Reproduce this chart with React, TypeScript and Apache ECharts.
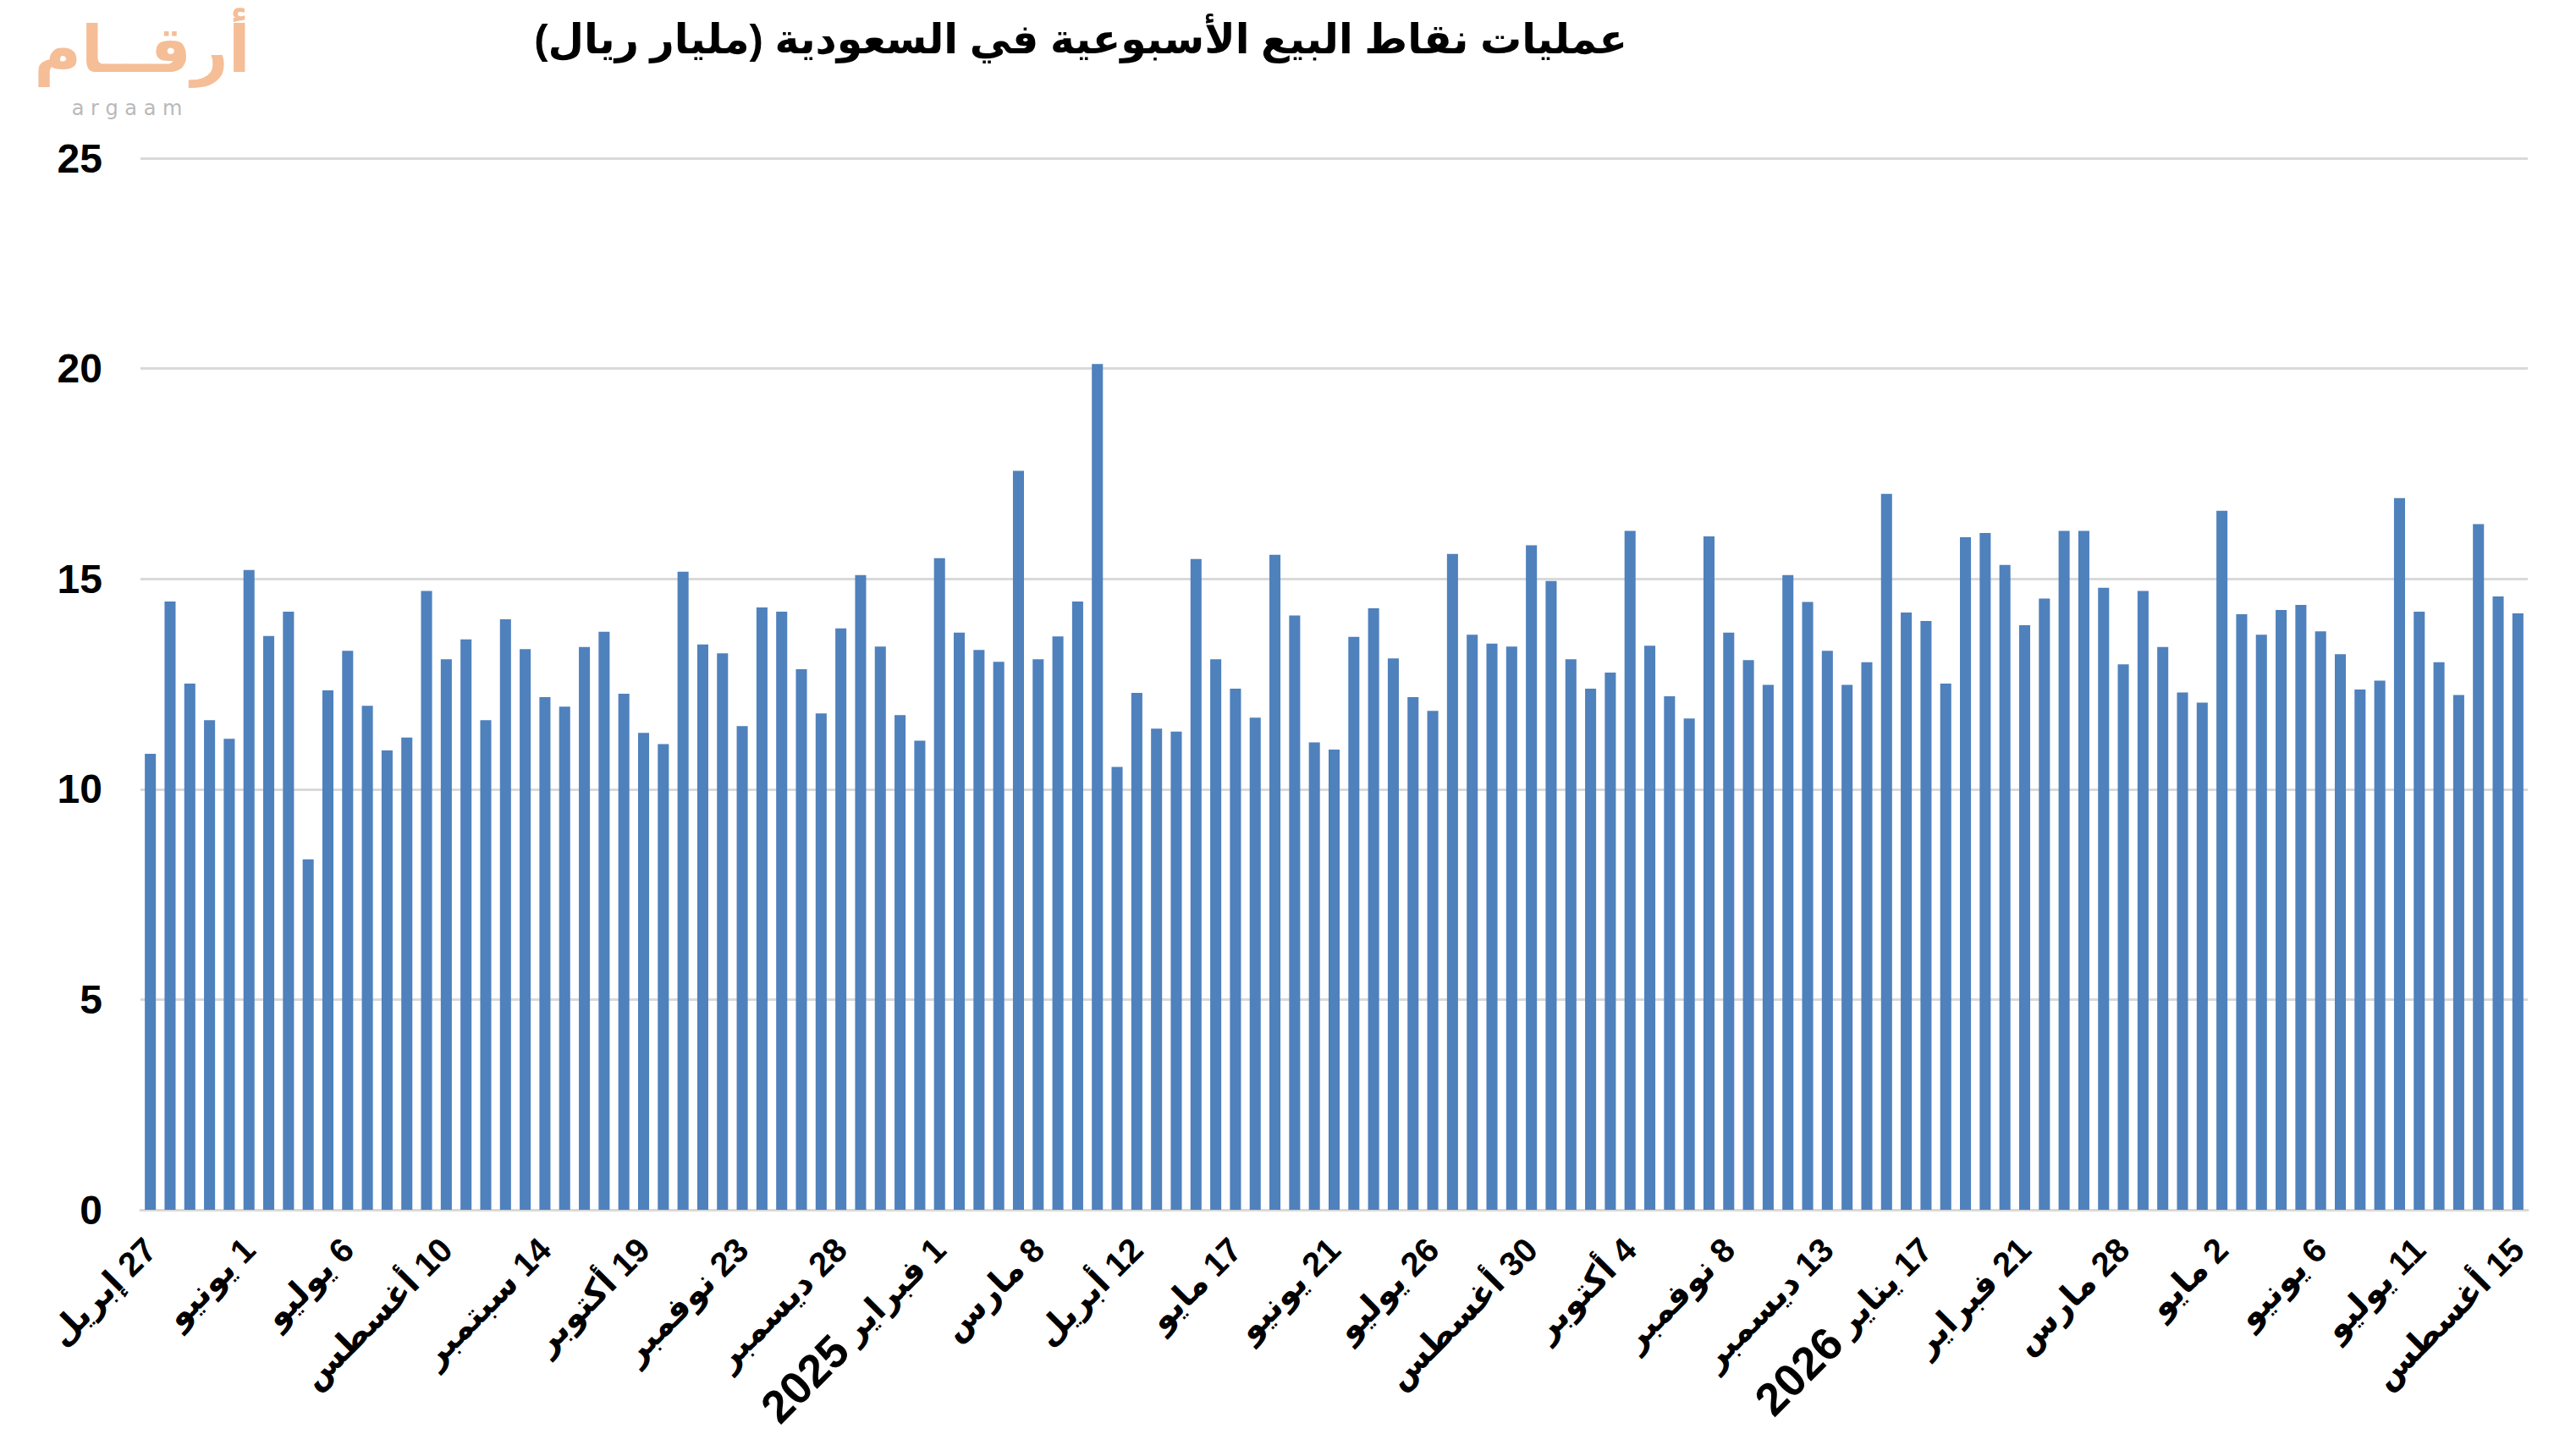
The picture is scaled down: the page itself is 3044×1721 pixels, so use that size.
import React, { useEffect, useRef } from "react";
import * as echarts from "echarts";

const TITLE = "عمليات نقاط البيع الأسبوعية في السعودية (مليار ريال)";

const values: number[] = [
  10.84, 14.46, 12.51, 11.64, 11.2, 15.21, 13.64, 14.22, 8.33, 12.35,
  13.29, 11.98, 10.92, 11.23, 14.71, 13.09, 13.56, 11.64, 14.04, 13.33,
  12.19, 11.96, 13.38, 13.74, 12.27, 11.34, 11.07, 15.17, 13.44, 13.23,
  11.5, 14.32, 14.22, 12.85, 11.8, 13.82, 15.09, 13.39, 11.76, 11.15,
  15.49, 13.72, 13.31, 13.03, 17.57, 13.09, 13.63, 14.46, 20.11, 10.53,
  12.29, 11.44, 11.37, 15.47, 13.09, 12.39, 11.7, 15.57, 14.13, 11.11,
  10.94, 13.62, 14.3, 13.11, 12.19, 11.86, 15.59, 13.67, 13.46, 13.39,
  15.8, 14.95, 13.09, 12.39, 12.77, 16.14, 13.41, 12.21, 11.68, 16.01,
  13.72, 13.07, 12.48, 15.09, 14.45, 13.29, 12.48, 13.02, 17.02, 14.2,
  14.0, 12.51, 15.99, 16.09, 15.33, 13.9, 14.53, 16.14, 16.14, 14.79,
  12.97, 14.71, 13.38, 12.3, 12.06, 16.62, 14.16, 13.67, 14.26, 14.38,
  13.75, 13.21, 12.37, 12.58, 16.92, 14.22, 13.02, 12.24, 16.3, 14.58,
  14.18,
];

// one tick label every 5 weeks, starting at the first week
const tickLabels: string[] = [
  "27 إبريل", "1 يونيو", "6 يوليو", "10 أغسطس", "14 سبتمبر",
  "19 أكتوبر", "23 نوفمبر", "28 ديسمبر", "1 فبراير", "8 مارس",
  "12 أبريل", "17 مايو", "21 يونيو", "26 يوليو", "30 أغسطس",
  "4 أكتوبر", "8 نوفمبر", "13 ديسمبر", "17 يناير", "21 فبراير",
  "28 مارس", "2 مايو", "6 يونيو", "11 يوليو", "15 أغسطس",
];
const tickYears: string[] = [
  "", "", "", "", "", "", "", "", "2025", "", "", "", "", "", "",
  "", "", "", "2026", "", "", "", "", "", "",
];
const TICK_STEP = 5;

const yTicks = { min: 0, max: 25, interval: 5 };

const categories: string[] = values.map((_, i) =>
  i % TICK_STEP === 0 ? tickLabels[i / TICK_STEP] : ""
);

const FONT = "'Liberation Sans', Arial, 'DejaVu Sans', sans-serif";

export default function App() {
  const ref = useRef<HTMLDivElement>(null);
  useEffect(() => {
    document.body.style.margin = "0";
    if (!ref.current) return;
    const chart = echarts.init(ref.current, undefined, { renderer: "svg" });
    chart.setOption({
      animation: false,
      backgroundColor: "#ffffff",
      title: {
        text: TITLE + "\u200F",
        left: 1272,
        top: 16,
        textAlign: "center",
        textStyle: {
          fontFamily: FONT,
          fontWeight: "bold",
          fontSize: 49,
          color: "#000000",
        },
      },
      graphic: [
        {
          type: "text",
          x: 168,
          y: 58,
          style: {
            text: "أرقــام",
            fill: "#F5BE96",
            font: "bold 76px 'DejaVu Sans', sans-serif",
            textAlign: "center",
            textVerticalAlign: "middle",
          },
        },
        {
          type: "text",
          x: 150,
          y: 128,
          style: {
            text: "a r g a a m",
            fill: "#B9B9B9",
            font: "24px 'DejaVu Sans', sans-serif",
            textAlign: "center",
            textVerticalAlign: "middle",
          },
        },
      ],
      grid: { left: 166, right: 57, top: 187, bottom: 291, containLabel: false },
      xAxis: {
        type: "category",
        data: categories,
        axisLine: { show: true, lineStyle: { color: "#D9D9D9", width: 3 } },
        axisTick: { show: false },
        axisLabel: {
          interval: TICK_STEP - 1,
          rotate: 45,
          margin: 40,
          color: "#000000",
          fontFamily: FONT,
          fontWeight: "bold",
          fontSize: 40,
          formatter: (_v: string, idx: number) => {
            const k = Math.round(idx / TICK_STEP);
            const base = "\u200F" + tickLabels[k];
            return tickYears[k] ? "{y|" + tickYears[k] + "} " + base : base;
          },
          rich: {
            y: {
              fontFamily: FONT,
              fontWeight: "bold",
              fontSize: 54,
              color: "#000000",
            },
          },
        },
      },
      yAxis: {
        type: "value",
        min: yTicks.min,
        max: yTicks.max,
        interval: yTicks.interval,
        axisLine: { show: false },
        axisTick: { show: false },
        splitLine: { lineStyle: { color: "#D9D9D9", width: 3 } },
        axisLabel: {
          margin: 45,
          color: "#000000",
          fontFamily: FONT,
          fontWeight: "bold",
          fontSize: 48,
        },
      },
      series: [
        {
          type: "bar",
          data: values,
          barCategoryGap: "44%",
          itemStyle: { color: "#4F81BD" },
        },
      ],
    });
    return () => chart.dispose();
  }, []);
  return <div ref={ref} style={{ width: 3044, height: 1721 }} />;
}
